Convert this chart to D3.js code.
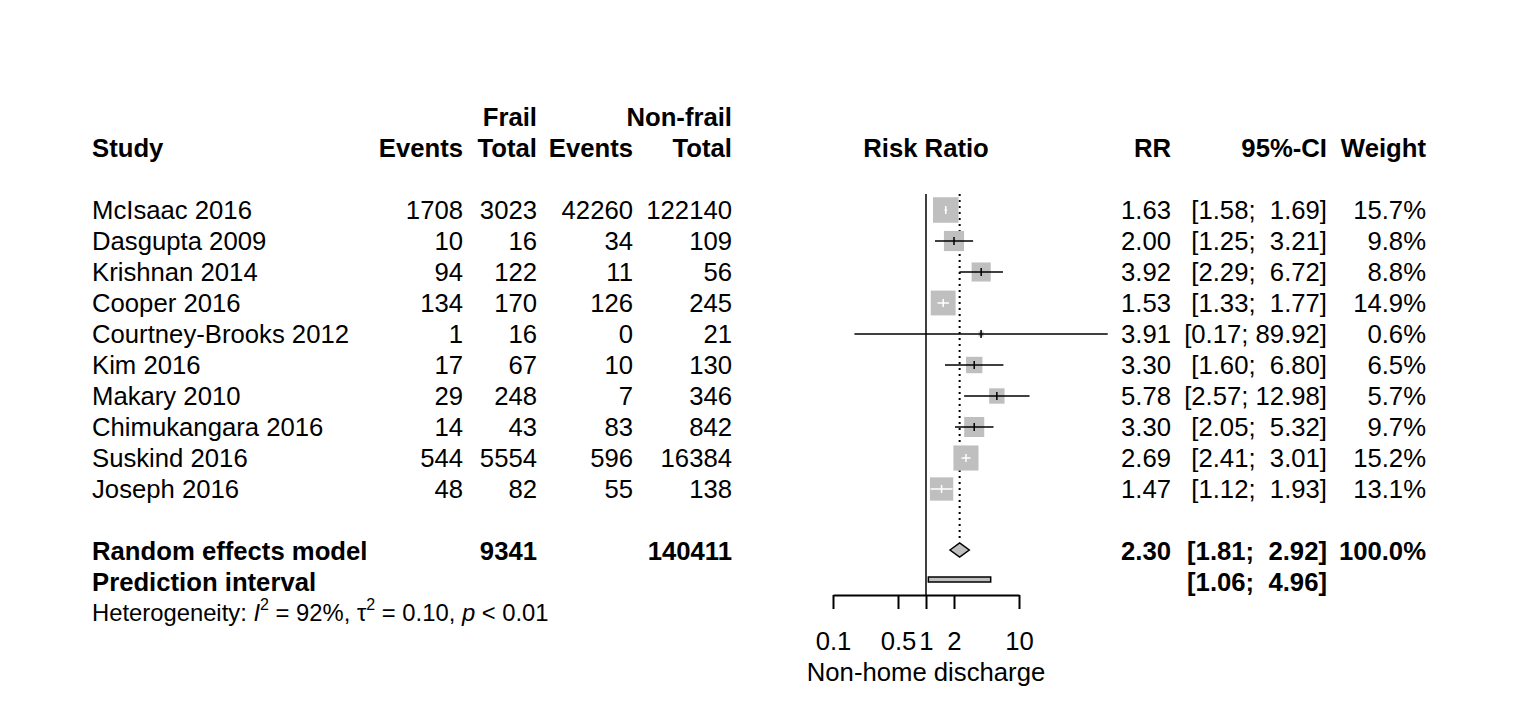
<!DOCTYPE html>
<html lang="en">
<head>
    <meta charset="UTF-8">
    <title>Forest plot - Non-home discharge</title>
    <style>
        body, html {
            margin: 0;
            padding: 0;
            background-color: #ffffff;
            overflow: hidden;
        }

        svg {
            font-family: "Liberation Sans", Arial, sans-serif;
            font-size: 25.7px;
        }

        text {
            white-space: pre;
            fill: #000;
        }

        .bold {
            font-weight: bold;
        }
    </style>
</head>
<body>
    <div id="chart"></div>

    <script src="https://d3js.org/d3.v7.min.js"></script>
    <script>
        // study data
        const studies = ["McIsaac 2016", "Dasgupta 2009", "Krishnan 2014", "Cooper 2016", "Courtney-Brooks 2012",
                         "Kim 2016", "Makary 2010", "Chimukangara 2016", "Suskind 2016", "Joseph 2016"];
        const frailEvents = [1708, 10, 94, 134, 1, 17, 29, 14, 544, 48];
        const frailTotal = [3023, 16, 122, 170, 16, 67, 248, 43, 5554, 82];
        const nonfrailEvents = [42260, 34, 11, 126, 0, 10, 7, 83, 596, 55];
        const nonfrailTotal = [122140, 109, 56, 245, 21, 130, 346, 842, 16384, 138];
        const rr = [1.63, 2.00, 3.92, 1.53, 3.91, 3.30, 5.78, 3.30, 2.69, 1.47];
        const lower = [1.58, 1.25, 2.29, 1.33, 0.17, 1.60, 2.57, 2.05, 2.41, 1.12];
        const upper = [1.69, 3.21, 6.72, 1.77, 89.92, 6.80, 12.98, 5.32, 3.01, 1.93];
        const weights = [15.7, 9.8, 8.8, 14.9, 0.6, 6.5, 5.7, 9.7, 15.2, 13.1];

        // random effects summary + prediction interval
        const pooled = { rr: 2.30, lower: 1.81, upper: 2.92, frailTotal: 9341, nonfrailTotal: 140411 };
        const prediction = { lower: 1.06, upper: 4.96 };
        const tickValues = [0.1, 0.5, 1, 2, 10];

        const width = 1518, height = 728;
        const boxGray = "#bfbfbf";

        const svg = d3.select("#chart").append("svg")
            .attr("width", width)
            .attr("height", height);

        // row index -> vertical centre of the row
        const rowY = d3.scaleLinear().domain([0, 1]).range([210, 241]);
        const x = d3.scaleLog().domain([0.1, 10]).range([833, 1019]);
        const boxSize = d3.scaleSqrt().domain([0, d3.max(weights)]).range([0, 25.5]);
        const base = 9; // baseline offset from row centre

        const fmt2 = d3.format(".2f");
        const pad = (s, w) => " ".repeat(Math.max(0, w - s.length)) + s;
        const upWidth = d3.max(upper.map(u => fmt2(u).length));
        const ciText = (l, u) => "[" + fmt2(l) + "; " + pad(fmt2(u), upWidth) + "]";

        // column right edges
        const col = { study: 92, fe: 463, ft: 537, ne: 633, nt: 732, rr: 1171, ci: 1327, w: 1426, plot: 926 };

        function txt(xp, row, str, anchor, bold) {
            return svg.append("text")
                .attr("x", xp)
                .attr("y", rowY(row) + base)
                .attr("text-anchor", anchor)
                .attr("class", bold ? "bold" : null)
                .text(str);
        }

        // headers
        txt(col.ft, -3, "Frail", "end", true);
        txt(col.nt, -3, "Non-frail", "end", true);
        txt(col.study, -2, "Study", "start", true);
        txt(col.fe, -2, "Events", "end", true);
        txt(col.ft, -2, "Total", "end", true);
        txt(col.ne, -2, "Events", "end", true);
        txt(col.nt, -2, "Total", "end", true);
        txt(col.plot, -2, "Risk Ratio", "middle", true);
        txt(col.rr, -2, "RR", "end", true);
        txt(col.ci, -2, "95%-CI", "end", true);
        txt(col.w, -2, "Weight", "end", true);

        // study rows
        studies.forEach((s, i) => {
            txt(col.study, i, s, "start");
            txt(col.fe, i, String(frailEvents[i]), "end");
            txt(col.ft, i, String(frailTotal[i]), "end");
            txt(col.ne, i, String(nonfrailEvents[i]), "end");
            txt(col.nt, i, String(nonfrailTotal[i]), "end");
            txt(col.rr, i, fmt2(rr[i]), "end");
            txt(col.ci, i, ciText(lower[i], upper[i]), "end");
            txt(col.w, i, weights[i].toFixed(1) + "%", "end");
        });

        // summary rows
        txt(col.study, 11, "Random effects model", "start", true);
        txt(col.ft, 11, String(pooled.frailTotal), "end", true);
        txt(col.nt, 11, String(pooled.nonfrailTotal), "end", true);
        txt(col.rr, 11, fmt2(pooled.rr), "end", true);
        txt(col.ci, 11, ciText(pooled.lower, pooled.upper), "end", true);
        txt(col.w, 11, "100.0%", "end", true);
        txt(col.study, 12, "Prediction interval", "start", true);
        txt(col.ci, 12, ciText(prediction.lower, prediction.upper), "end", true);

        // heterogeneity line
        const het = svg.append("text")
            .attr("x", col.study)
            .attr("y", rowY(13) + 8)
            .style("font-size", "23.8px");
        het.append("tspan").text("Heterogeneity: ");
        het.append("tspan").style("font-style", "italic").text("I");
        het.append("tspan").attr("dy", -11).style("font-size", "16px").text("2");
        het.append("tspan").attr("dy", 11).text(" = 92%, ");
        het.append("tspan").text("\u03c4");
        het.append("tspan").attr("dy", -11).style("font-size", "16px").text("2");
        het.append("tspan").attr("dy", 11).text(" = 0.10, ");
        het.append("tspan").style("font-style", "italic").text("p");
        het.append("tspan").text(" < 0.01");

        // reference lines
        const axisY = 595;
        svg.append("line")
            .attr("x1", x(1)).attr("x2", x(1))
            .attr("y1", rowY(0) - 16).attr("y2", axisY)
            .attr("stroke", "#000").attr("stroke-width", 1.5);

        svg.append("line")
            .attr("x1", x(pooled.rr)).attr("x2", x(pooled.rr))
            .attr("y1", rowY(0) - 16).attr("y2", rowY(11) - 13)
            .attr("stroke", "#000").attr("stroke-width", 2)
            .attr("stroke-dasharray", "2,4");

        // study boxes and CIs
        const g = svg.append("g");
        studies.forEach((s, i) => {
            const cy = rowY(i);
            const cx = x(rr[i]);
            const sz = boxSize(weights[i]);
            const lo = x(lower[i]), hi = x(upper[i]);
            const inside = lo >= cx - sz / 2 && hi <= cx + sz / 2;
            const lineCol = inside ? "#fff" : "#000";

            g.append("rect")
                .attr("x", cx - sz / 2).attr("y", cy - sz / 2)
                .attr("width", sz).attr("height", sz)
                .attr("fill", boxGray);

            g.append("line")
                .attr("x1", lo).attr("x2", hi)
                .attr("y1", cy).attr("y2", cy)
                .attr("stroke", lineCol).attr("stroke-width", 1.5);

            g.append("line")
                .attr("x1", cx).attr("x2", cx)
                .attr("y1", cy - 4).attr("y2", cy + 4)
                .attr("stroke", lineCol).attr("stroke-width", 1.5);
        });

        // pooled diamond
        const dy = rowY(11) - 1;
        svg.append("path")
            .attr("d", d3.line()([
                [x(pooled.lower), dy], [x(pooled.rr), dy - 7],
                [x(pooled.upper), dy], [x(pooled.rr), dy + 7]
            ]) + "Z")
            .attr("fill", boxGray)
            .attr("stroke", "#000")
            .attr("stroke-width", 1.5);

        // prediction interval bar
        svg.append("rect")
            .attr("x", x(prediction.lower))
            .attr("y", rowY(12) - 5)
            .attr("width", x(prediction.upper) - x(prediction.lower))
            .attr("height", 5)
            .attr("fill", boxGray)
            .attr("stroke", "#000")
            .attr("stroke-width", 1.5);

        // x axis
        const axis = svg.append("g")
            .attr("transform", `translate(0,${axisY})`)
            .call(d3.axisBottom(x)
                .tickValues(tickValues)
                .tickFormat(d3.format("~g"))
                .tickSize(14)
                .tickSizeOuter(0)
                .tickPadding(23));
        axis.select(".domain").attr("stroke-width", 2);
        axis.selectAll(".tick line").attr("stroke-width", 2);
        axis.selectAll(".tick text")
            .style("font-family", "'Liberation Sans', Arial, sans-serif")
            .style("font-size", "25.7px");

        svg.append("text")
            .attr("x", x(1))
            .attr("y", 681)
            .attr("text-anchor", "middle")
            .text("Non-home discharge");
    </script>
</body>
</html>
